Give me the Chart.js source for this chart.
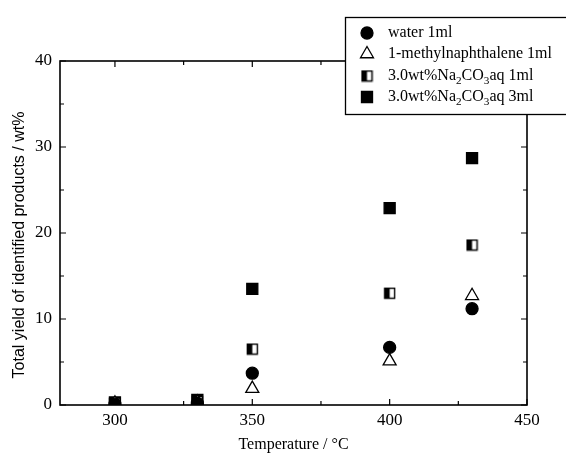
<!DOCTYPE html>
<html>
<head>
<meta charset="utf-8">
<script src="https://cdn.jsdelivr.net/npm/chart.js@4"></script>
<style>
  html, body { margin: 0; padding: 0; background: #fff; }
</style>
</head>
<body>
<canvas id="graficoRendimento" width="566" height="458"></canvas>
<script>
// dados
const temperaturas = [300, 330, 350, 400, 430];
const agua1ml = [0.1, 0.2, 3.7, 6.7, 11.2];
const metilnaftaleno1ml = [0.2, 0.3, 1.9, 5.1, 12.7];
const na2co3_1ml = [0.2, 0.4, 6.5, 13.0, 18.6];
const na2co3_3ml = [0.3, 0.6, 13.5, 22.9, 28.7];

const rotulos = ["water 1ml", "1-methylnaphthalene 1ml", "3.0wt%Na_2CO_3aq 1ml", "3.0wt%Na_2CO_3aq 3ml"];
const tituloY = "Total yield of identified products / wt%";
const ticksX = [300, 350, 400, 450];
const ticksXMenores = [325, 375, 425];
const ticksY = [0, 10, 20, 30, 40];
const ticksYMenores = [5, 15, 25, 35];

const fonte = "'Liberation Serif', 'Times New Roman', serif";
const fonteSans = "'Liberation Sans', Arial, sans-serif";

// quadrado meio preenchido
function quadradoMeio(lado) {
  const c = document.createElement("canvas");
  c.width = lado + 2;
  c.height = lado + 2;
  const g = c.getContext("2d");
  g.fillStyle = "#fff";
  g.fillRect(1, 1, lado, lado);
  g.fillStyle = "#000";
  g.fillRect(1, 1, lado / 2, lado);
  g.strokeStyle = "#000";
  g.lineWidth = 1.4;
  g.strokeRect(1.5, 1.5, lado - 1, lado - 1);
  return c;
}
const meioQuadrado = quadradoMeio(11);

function serie(rotulo, valores, estilo) {
  return Object.assign({
    label: rotulo,
    data: temperaturas.map((t, i) => ({ x: t, y: valores[i] })),
    showLine: false,
    borderColor: "#000",
    backgroundColor: "#000",
    borderWidth: 1.3,
  }, estilo);
}

// moldura com ticks para dentro nos quatro lados
const moldura = {
  id: "moldura",
  beforeDatasetsDraw(chart) {
    const { ctx, chartArea: a, scales } = chart;
    ctx.save();
    ctx.strokeStyle = "#000";
    ctx.lineWidth = 1.6;
    ctx.strokeRect(a.left, a.top, a.right - a.left, a.bottom - a.top);
    ctx.lineWidth = 1.2;
    const marca = (lista, tam) => {
      lista.forEach(v => {
        const px = scales.x.getPixelForValue(v);
        ctx.beginPath();
        ctx.moveTo(px, a.bottom); ctx.lineTo(px, a.bottom - tam);
        ctx.moveTo(px, a.top); ctx.lineTo(px, a.top + tam);
        ctx.stroke();
      });
    };
    const marcaY = (lista, tam) => {
      lista.forEach(v => {
        const py = scales.y.getPixelForValue(v);
        ctx.beginPath();
        ctx.moveTo(a.left, py); ctx.lineTo(a.left + tam, py);
        ctx.moveTo(a.right, py); ctx.lineTo(a.right - tam, py);
        ctx.stroke();
      });
    };
    marca(ticksX, 6);
    marca(ticksXMenores, 4);
    marcaY(ticksY, 6);
    marcaY(ticksYMenores, 4);

    // titulo do eixo y (um pouco abaixo do centro, como no original)
    ctx.translate(20, 245);
    ctx.rotate(-Math.PI / 2);
    ctx.fillStyle = "#000";
    ctx.font = "16px " + fonteSans;
    ctx.textAlign = "center";
    ctx.textBaseline = "middle";
    ctx.fillText(tituloY, 0, 0);
    ctx.restore();
  },
};

// texto com subscrito: "_2" vira 2 rebaixado
function textoSub(ctx, texto, x, y, tam) {
  const partes = texto.split(/(_\d)/);
  partes.forEach(p => {
    if (!p) return;
    if (p[0] === "_") {
      ctx.font = (tam * 0.7) + "px " + fonte;
      ctx.fillText(p[1], x, y + tam * 0.3);
      x += ctx.measureText(p[1]).width;
    } else {
      ctx.font = tam + "px " + fonte;
      ctx.fillText(p, x, y);
      x += ctx.measureText(p).width;
    }
  });
}

const legenda = {
  id: "legenda",
  afterDraw(chart) {
    const { ctx } = chart;
    ctx.save();
    ctx.fillStyle = "#fff";
    ctx.fillRect(345, 17, 230, 98);
    ctx.strokeStyle = "#000";
    ctx.lineWidth = 1.3;
    ctx.strokeRect(345.5, 17.5, 230, 97);
    const linhas = [33, 54, 76, 97];
    chart.data.datasets.forEach((ds, i) => {
      const opts = chart.getDatasetMeta(i).data[0].options;
      ctx.fillStyle = opts.backgroundColor;
      ctx.strokeStyle = opts.borderColor;
      ctx.lineWidth = opts.borderWidth;
      Chart.helpers.drawPoint(ctx, {
        pointStyle: opts.pointStyle,
        radius: opts.radius,
        borderWidth: opts.borderWidth,
        rotation: 0,
      }, 367, linhas[i]);
      ctx.fillStyle = "#000";
      ctx.textBaseline = "middle";
      textoSub(ctx, rotulos[i], 388, linhas[i], 16);
    });
    ctx.restore();
  },
};

const grafico = document.getElementById("graficoRendimento");

new Chart(grafico, {
  type: "scatter",
  data: {
    datasets: [
      serie(rotulos[0], agua1ml, { pointStyle: "circle", pointRadius: 6 }),
      serie(rotulos[1], metilnaftaleno1ml, { pointStyle: "triangle", pointRadius: 7.5, backgroundColor: "#fff" }),
      serie(rotulos[2], na2co3_1ml, { pointStyle: meioQuadrado, pointRadius: 6 }),
      serie(rotulos[3], na2co3_3ml, { pointStyle: "rect", pointRadius: 7.8 }),
    ],
  },
  options: {
    responsive: false,
    animation: false,
    layout: { padding: { top: 61, right: 39, left: 0, bottom: 0 } },
    plugins: {
      legend: { display: false },
      tooltip: { enabled: false },
    },
    scales: {
      x: {
        type: "linear",
        min: 280,
        max: 450,
        afterBuildTicks: s => { s.ticks = ticksX.map(v => ({ value: v })); },
        afterFit: s => { s.height = 53; },
        grid: { display: false, drawTicks: false },
        border: { display: false },
        ticks: { color: "#000", padding: 5, font: { family: fonte, size: 17 } },
        title: {
          display: true,
          text: "Temperature / °C",
          color: "#000",
          font: { family: fonte, size: 16 },
          padding: { top: 10 },
        },
      },
      y: {
        min: 0,
        max: 40,
        afterBuildTicks: s => { s.ticks = ticksY.map(v => ({ value: v })); },
        afterFit: s => { s.width = 60; },
        grid: { display: false, drawTicks: false },
        border: { display: false },
        ticks: { color: "#000", padding: 8, font: { family: fonte, size: 17 } },
      },
    },
  },
  plugins: [moldura, legenda],
});
</script>
</body>
</html>
